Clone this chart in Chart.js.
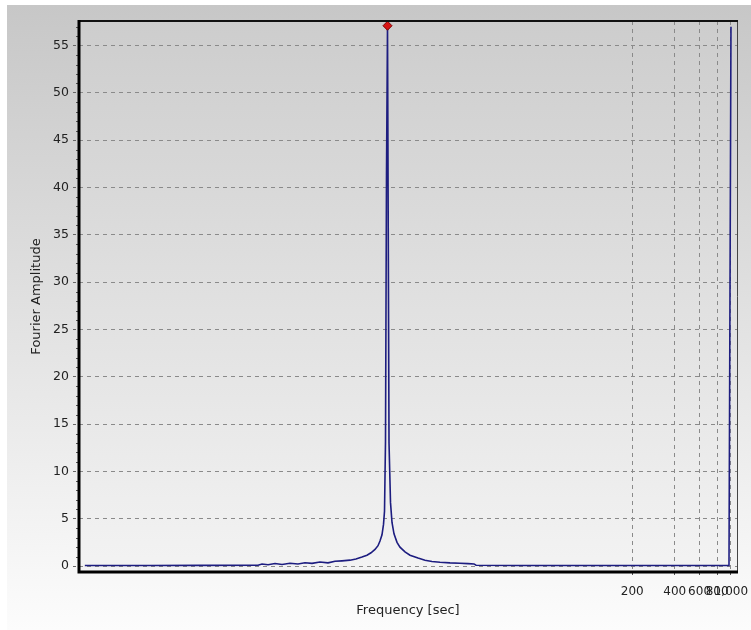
<!DOCTYPE html>
<html>
<head>
<meta charset="utf-8">
<script src="https://cdn.jsdelivr.net/npm/chart.js@4.4.1/dist/chart.umd.min.js"></script>
<style>
    html, body { margin: 0; padding: 0; background: #ffffff; }
    #wrap { width: 751px; height: 630px; position: relative; }
</style>
</head>
<body>
<div id="wrap"><canvas id="fourierChart" width="751" height="630"></canvas></div>
<script>
// ============================================================
// Data
// ============================================================

const FREQ = [0.0262, 0.0759, 0.172, 0.443, 0.473, 0.522, 0.585, 0.656, 0.747, 0.851,
              0.954, 1.070, 1.219, 1.389, 1.558, 1.747, 1.990, 2.195, 2.421, 2.626,
              2.805, 2.994, 3.145, 3.248, 3.356, 3.440, 3.497, 3.554, 3.612, 3.672,
              3.764, 3.857, 3.952, 4.083, 4.288, 4.502, 4.886, 5.302, 6.042, 6.774,
              7.594, 8.654, 10.19, 12.00, 13.67, 15.08, 15.58, 31.9, 118, 601,
              970, 1002];

const AMP = [0.06, 0.06, 0.07, 0.08, 0.22, 0.14, 0.26, 0.16, 0.30, 0.22,
             0.34, 0.28, 0.42, 0.34, 0.50, 0.55, 0.62, 0.75, 0.95, 1.15,
             1.40, 1.75, 2.15, 2.65, 3.3, 4.4, 5.8, 13.2, 41.3, 57.1,
             13.0, 6.7, 4.6, 3.4, 2.5, 2.0, 1.5, 1.15, 0.85, 0.62,
             0.48, 0.40, 0.33, 0.30, 0.26, 0.22, 0.08, 0.06, 0.05, 0.05,
             0.05, 57.0];

const PEAK_FREQ = [3.672];
const PEAK_AMP = [57.1];

const X_TICKS = [200, 400, 600, 800, 1000];
const Y_TICKS = [0, 5, 10, 15, 20, 25, 30, 35, 40, 45, 50, 55];

// ============================================================
// Drawing helpers
// ============================================================

// Gray gradient panel behind the whole chart and inside the plot area
const backgroundPlugin = {
    id: 'panelBackground',
    beforeDraw(chart) {
        const { ctx, chartArea: a } = chart;
        ctx.save();
        let g = ctx.createLinearGradient(0, 5, 0, 630);
        g.addColorStop(0, '#c7c7c7');
        g.addColorStop(1, '#fcfcfc');
        ctx.fillStyle = g;
        ctx.fillRect(7, 5, 744, 625);

        g = ctx.createLinearGradient(0, a.top, 0, a.bottom);
        g.addColorStop(0, '#cdcdcd');
        g.addColorStop(1, '#f3f3f3');
        ctx.fillStyle = g;
        ctx.fillRect(a.left, a.top, a.right - a.left, a.bottom - a.top);
        ctx.restore();
    }
};

// Plot frame and minor y ticks
const framePlugin = {
    id: 'plotFrame',
    afterDraw(chart) {
        const { ctx, chartArea: a } = chart;
        const y = chart.scales.y;
        ctx.save();
        // minor ticks every unit
        ctx.strokeStyle = '#555';
        ctx.lineWidth = 1;
        for (let v = 1; v <= 57; v++) {
            if (v % 5 === 0) continue;
            const py = Math.round(y.getPixelForValue(v)) + 0.5;
            ctx.beginPath();
            ctx.moveTo(a.left - 3, py);
            ctx.lineTo(a.left, py);
            ctx.stroke();
        }
        // right edge
        ctx.strokeStyle = '#444';
        ctx.lineWidth = 1;
        ctx.beginPath();
        ctx.moveTo(a.right + 0.5, a.top);
        ctx.lineTo(a.right + 0.5, a.bottom);
        ctx.stroke();
        // top edge
        ctx.strokeStyle = '#111';
        ctx.lineWidth = 2;
        ctx.beginPath();
        ctx.moveTo(a.left, a.top);
        ctx.lineTo(a.right + 1, a.top);
        ctx.stroke();
        // left + bottom heavy edges
        ctx.strokeStyle = '#000';
        ctx.lineWidth = 3;
        ctx.beginPath();
        ctx.moveTo(a.left, a.top - 1);
        ctx.lineTo(a.left, a.bottom);
        ctx.lineTo(a.right + 1, a.bottom);
        ctx.stroke();
        ctx.restore();
    }
};

// ============================================================
// Chart
// ============================================================

const lineData = FREQ.map((f, i) => ({ x: f, y: AMP[i] }));
const peakData = PEAK_FREQ.map((f, i) => ({ x: f, y: PEAK_AMP[i] }));

const tickFont = { family: 'DejaVu Sans', size: 12 };
const titleFont = { family: 'DejaVu Sans', size: 13 };

new Chart(document.getElementById('fourierChart'), {
    type: 'line',
    data: {
        datasets: [
            {
                data: peakData,
                showLine: false,
                pointStyle: 'rectRot',
                pointRadius: 4.5,
                pointBackgroundColor: '#d81414',
                pointBorderColor: '#7a0000',
                pointBorderWidth: 1,
                clip: false
            },
            {
                data: lineData,
                borderColor: '#1d1d80',
                borderWidth: 1.6,
                pointRadius: 0,
                tension: 0,
                fill: false
            }
        ]
    },
    options: {
        responsive: false,
        animation: false,
        events: [],
        layout: { padding: { left: 0, right: 14, top: 21, bottom: 0 } },
        plugins: {
            legend: { display: false },
            tooltip: { enabled: false }
        },
        scales: {
            x: {
                type: 'logarithmic',
                min: 0.02382,
                max: 1105.6,
                afterBuildTicks(scale) {
                    scale.ticks = X_TICKS.map(v => ({ value: v }));
                },
                afterFit(scale) {
                    scale.height = 58;
                    scale.paddingLeft = 0;
                    scale.paddingRight = 0;
                },
                grid: {
                    color: '#8a8a8a',
                    lineWidth: 1,
                    drawTicks: true,
                    tickLength: 6,
                    tickColor: '#555',
                    tickBorderDash: [3, 3]
                },
                border: { display: false, dash: [4, 4] },
                ticks: {
                    autoSkip: false,
                    maxRotation: 0,
                    padding: 7,
                    color: '#222',
                    font: tickFont,
                    callback: v => v.toLocaleString('en-US')
                },
                title: {
                    display: true,
                    text: 'Frequency [sec]',
                    color: '#222',
                    font: titleFont,
                    padding: { top: 0, bottom: 12 }
                }
            },
            y: {
                type: 'linear',
                min: -0.63,
                max: 57.6,
                afterBuildTicks(scale) {
                    scale.ticks = Y_TICKS.map(v => ({ value: v }));
                },
                afterFit(scale) {
                    scale.width = 79;
                    scale.paddingTop = 0;
                    scale.paddingBottom = 0;
                },
                grid: {
                    color: '#8a8a8a',
                    lineWidth: 1,
                    drawTicks: true,
                    tickLength: 6,
                    tickColor: '#666',
                    tickBorderDash: [3, 3]
                },
                border: { display: false, dash: [4, 4] },
                ticks: {
                    padding: 4,
                    color: '#222',
                    font: { family: 'DejaVu Sans', size: 12.5 }
                },
                title: {
                    display: true,
                    text: 'Fourier Amplitude',
                    color: '#222',
                    font: titleFont,
                    padding: { top: 29, bottom: 0 }
                }
            }
        }
    },
    plugins: [backgroundPlugin, framePlugin]
});
</script>
</body>
</html>
